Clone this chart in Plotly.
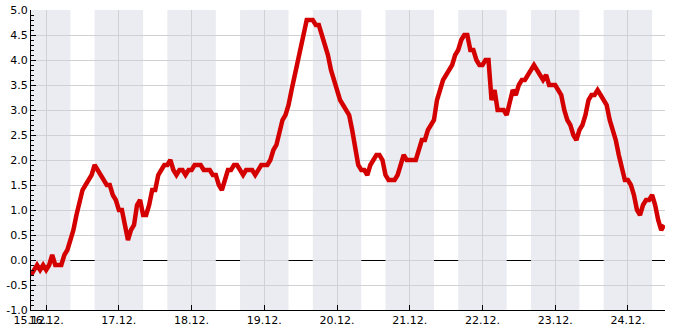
import pandas as pd
import plotly.graph_objects as go

# hourly readings starting 15.12. 19:00
start_time = "2023-12-15 19:00"
values = [
    -0.3, -0.2, -0.1, -0.2, -0.1, -0.2, -0.1, 0.1, -0.1, -0.1,
    -0.1, 0.1, 0.2, 0.4, 0.6, 0.9, 1.2, 1.4, 1.5, 1.6,
    1.7, 1.9, 1.8, 1.7, 1.6, 1.5, 1.5, 1.3, 1.2, 1.0,
    1.0, 0.7, 0.4, 0.6, 0.7, 1.1, 1.2, 0.9, 0.9, 1.1,
    1.4, 1.4, 1.7, 1.8, 1.9, 1.9, 2.0, 1.8, 1.7, 1.8,
    1.8, 1.7, 1.8, 1.8, 1.9, 1.9, 1.9, 1.8, 1.8, 1.8,
    1.7, 1.7, 1.5, 1.4, 1.6, 1.8, 1.8, 1.9, 1.9, 1.8,
    1.7, 1.8, 1.8, 1.8, 1.7, 1.8, 1.9, 1.9, 1.9, 2.0,
    2.2, 2.3, 2.6, 2.8, 2.9, 3.1, 3.4, 3.7, 4.0, 4.3,
    4.6, 4.8, 4.8, 4.8, 4.7, 4.7, 4.5, 4.3, 4.1, 3.8,
    3.6, 3.4, 3.2, 3.1, 3.0, 2.9, 2.6, 2.3, 1.9, 1.8,
    1.8, 1.7, 1.9, 2.0, 2.1, 2.1, 2.0, 1.7, 1.6, 1.6,
    1.6, 1.7, 1.9, 2.1, 2.0, 2.0, 2.0, 2.0, 2.2, 2.4,
    2.4, 2.6, 2.7, 2.8, 3.2, 3.4, 3.6, 3.7, 3.8, 3.9,
    4.1, 4.2, 4.4, 4.5, 4.5, 4.2, 4.2, 4.0, 3.9, 3.9,
    4.0, 4.0, 3.2, 3.4, 3.0, 3.0, 3.0, 2.9, 3.2, 3.4,
    3.3, 3.5, 3.6, 3.6, 3.7, 3.8, 3.9, 3.8, 3.7, 3.6,
    3.7, 3.5, 3.5, 3.5, 3.4, 3.3, 3.0, 2.8, 2.7, 2.5,
    2.4, 2.6, 2.7, 2.9, 3.2, 3.3, 3.3, 3.4, 3.3, 3.2,
    3.1, 2.8, 2.6, 2.4, 2.1, 1.8, 1.6, 1.6, 1.5, 1.3,
    1.0, 0.9, 1.1, 1.2, 1.2, 1.3, 1.1, 0.8, 0.6, 0.7,
]
times = pd.date_range(start_time, periods=len(values), freq="h")

x_range = ["2023-12-15 19:00", "2023-12-24 12:15"]
day_ticks = ["2023-12-%02d" % d for d in range(16, 25)]
day_labels = ["%d.12." % d for d in range(16, 25)]
x_tickvals = [x_range[0]] + day_ticks
x_ticktext = ["15.12."] + day_labels

y_tickvals = [5.0, 4.5, 4.0, 3.5, 3.0, 2.5, 2.0, 1.5, 1.0, 0.5, 0.0, -0.5, -1.0]
y_ticktext = ["%.1f" % v for v in y_tickvals]

# night shading 16:00 -> 08:00
night_starts = ["2023-12-%02d 16:00" % d for d in range(14, 24)]
night_ends = ["2023-12-%02d 08:00" % d for d in range(15, 25)]
day_starts = ["2023-12-%02d 08:00" % d for d in range(16, 25)]
day_ends = ["2023-12-%02d 16:00" % d for d in range(16, 25)]

fig = go.Figure()
fig.add_trace(go.Scatter(
    x=times, y=values, mode="lines",
    line=dict(color="#d40000", width=4.5),
    hoverinfo="skip", showlegend=False,
))

shapes = []
for s, e in zip(night_starts, night_ends):
    shapes.append(dict(type="rect", xref="x", yref="paper", x0=s, x1=e, y0=0, y1=1,
                       fillcolor="#ebecf1", line=dict(width=0), layer="below"))
for s, e in zip(day_starts, day_ends):
    shapes.append(dict(type="line", xref="x", yref="y", x0=s, x1=e, y0=-0.01, y1=-0.01,
                       line=dict(color="#000000", width=1), layer="above"))
fig.update_layout(shapes=shapes)

fig.update_layout(
    width=685, height=330,
    margin=dict(l=31, r=20, t=10, b=20, autoexpand=False),
    paper_bgcolor="white", plot_bgcolor="white",
    font=dict(family="DejaVu Sans", size=11, color="#000000"),
    showlegend=False,
)
fig.update_xaxes(
    type="date", range=x_range, automargin=False,
    tickmode="array", tickvals=x_tickvals, ticktext=x_ticktext,
    ticks="inside", ticklen=5, tickcolor="#000000",
    showline=True, linecolor="#000000", linewidth=1,
    showgrid=True, gridcolor="#d0d0d5", gridwidth=1,
    zeroline=False, tickangle=0,
)
fig.update_yaxes(
    range=[-1.0, 5.0], automargin=False,
    tickmode="array", tickvals=y_tickvals, ticktext=y_ticktext,
    ticks="inside", ticklen=5, tickcolor="#000000",
    minor=dict(dtick=0.1, tick0=0, ticks="inside", ticklen=3, tickcolor="#000000", showgrid=False),
    showline=True, linecolor="#000000", linewidth=1,
    showgrid=True, gridcolor="#d0d0d5", gridwidth=1,
    zeroline=False,
)

fig.write_html("out.html")
